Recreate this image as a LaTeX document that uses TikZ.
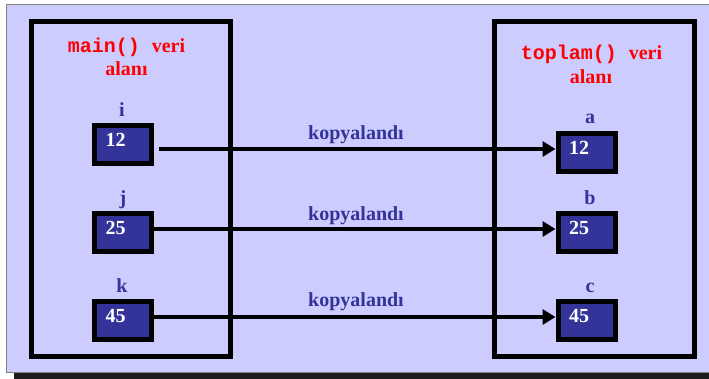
\documentclass[tikz,border=0pt]{standalone}
\usepackage{fontspec}
\setmainfont{Liberation Serif}
\newfontfamily\monob{Liberation Mono}
\usetikzlibrary{arrows.meta}
\definecolor{bg}{HTML}{CCCCFF}
\definecolor{navy}{HTML}{333399}
\definecolor{shadowc}{HTML}{1C1C1C}
\begin{document}
\begin{tikzpicture}[x=1pt,y=-1pt,
  frame/.style={draw=black,line width=5pt},
  cell/.style={draw=black,line width=5pt,fill=navy,minimum width=57pt,minimum height=38pt,
    text width=34.6pt,inner xsep=11.2pt,align=left,text depth=8pt,text=white,
    font=\fontsize{20}{24}\selectfont\bfseries},
  varname/.style={anchor=base,text=navy,inner sep=0pt,font=\fontsize{20}{24}\selectfont\bfseries},
  title/.style={anchor=base,text=red,inner sep=0pt,font=\fontsize{20}{24}\selectfont\bfseries},
  copyarrow/.style={line width=4.5pt,-{Triangle[length=13pt,width=15pt]}}]
\useasboundingbox (0,0) rectangle (709,378);
\begin{scope}
\clip (0,0) rectangle (709,378);
\fill[shadowc] (13.5,11) rectangle (730,390);
\draw[fill=bg,draw=gray,line width=1pt] (6.5,4.5) rectangle (720,372.5);
\end{scope}
% data areas
\draw[frame] (31.5,21.5) rectangle (230.5,356.5);
\draw[frame] (494.5,21.5) rectangle (694.5,356.5);
% titles
\node[title] (t1) at (126.5,52.5) {{\monob main() }veri};
\node[title] (t1b) at (126.5,75) {alanı};
\node[title] (t2) at (591.5,59) {{\monob toplam() }veri};
\node[title] (t2b) at (591,83) {alanı};
% cells
\node[cell] (i) at (123,144.2) {12};
\node[cell] (j) at (123,232.2) {25};
\node[cell] (k) at (123,320) {45};
\node[cell] (a) at (586.5,152) {12};
\node[cell] (b) at (586.5,232.2) {25};
\node[cell] (c) at (586.5,320) {45};
% variable names
\node[varname] (li) at (122,116) {i};
\node[varname] (lj) at (123,204) {j};
\node[varname] (lk) at (122,292) {k};
\node[varname] (la) at (590,123) {a};
\node[varname] (lb) at (590,204) {b};
\node[varname] (lc) at (590,292) {c};
% arrows
\coordinate (p1) at ([yshift=-4.8pt]i.east);
\coordinate (p2) at ([yshift=3.2pt]j.east);
\coordinate (p3) at ([yshift=3pt]k.east);
\draw[copyarrow] ([xshift=5pt]p1) -- (p1 -| a.west);
\draw[copyarrow] (p2) -- (p2 -| b.west);
\draw[copyarrow] (p3) -- (p3 -| c.west);
\node[varname] (c1) at (356,139) {kopyalandı};
\node[varname] (c2) at (356,220) {kopyalandı};
\node[varname] (c3) at (356,306) {kopyalandı};
\end{tikzpicture}
\end{document}
